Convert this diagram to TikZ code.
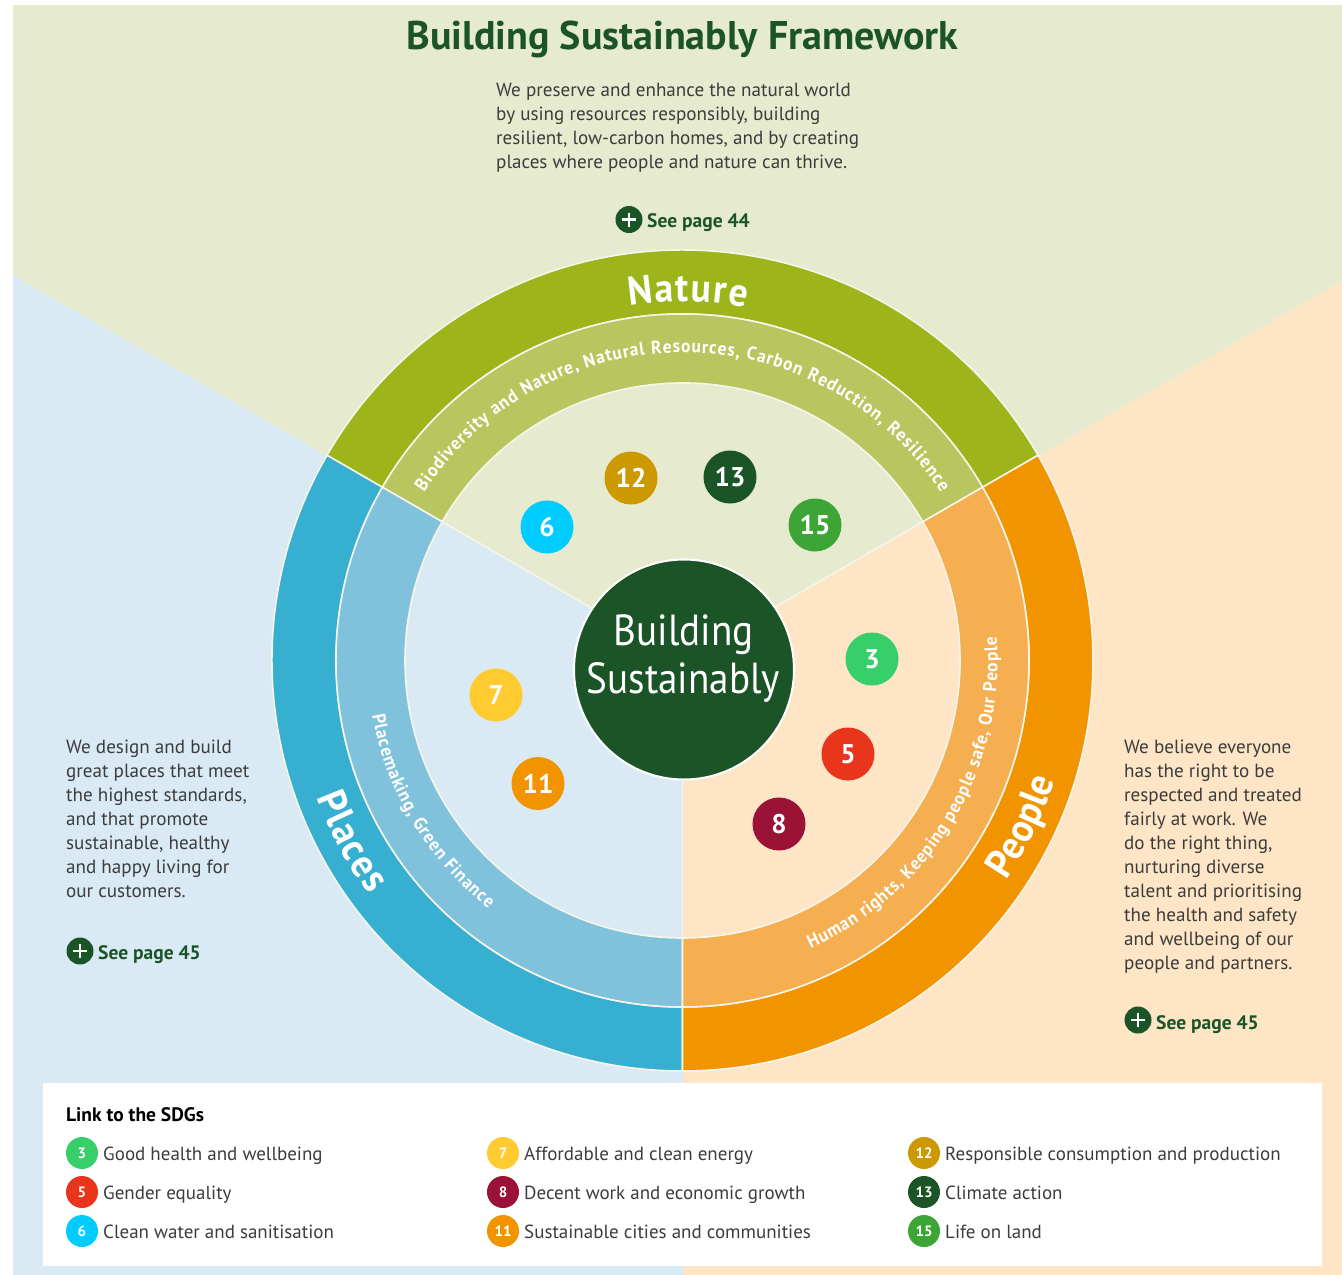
\documentclass[tikz,border=0pt]{standalone}
\usepackage{fontspec}
\usetikzlibrary{decorations.text}
\setmainfont{PT Sans}
\newfontfamily\boldf{PT Sans Bold}
\newfontfamily\curvef[FakeStretch=0.94]{PT Sans Bold}
\newfontfamily\hubf[FakeStretch=0.9]{PT Sans}
\definecolor{dkgreen}{HTML}{1B5427}
\definecolor{bgnat}{HTML}{E6EBD0}
\definecolor{bgpla}{HTML}{DAEAF4}
\definecolor{bgpeo}{HTML}{FDE5C6}
\definecolor{natA}{HTML}{9DB51B}
\definecolor{natB}{HTML}{B9C65F}
\definecolor{plaA}{HTML}{36AFD1}
\definecolor{plaB}{HTML}{80C1DC}
\definecolor{peoA}{HTML}{F29400}
\definecolor{peoB}{HTML}{F5AF50}
\definecolor{ink}{HTML}{3C3C3C}
\definecolor{rim}{HTML}{F6F5EA}
\definecolor{sThree}{HTML}{36CF6A}
\definecolor{sFive}{HTML}{E8351C}
\definecolor{sSix}{HTML}{00CCFF}
\definecolor{sSeven}{HTML}{FFCB30}
\definecolor{sEight}{HTML}{9A1236}
\definecolor{sEleven}{HTML}{F29400}
\definecolor{sTwelve}{HTML}{CC9900}
\definecolor{sThirteen}{HTML}{1B5427}
\definecolor{sFifteen}{HTML}{3DA535}
\tikzset{
  bigbadge/.style={circle,inner sep=0pt,minimum size=53pt,fill=#1,text=white,font=\boldf\fontsize{27}{27}\selectfont},
  smallbadge/.style={circle,inner sep=0pt,minimum size=32pt,fill=#1,text=white,font=\boldf\fontsize{15}{15}\selectfont},
  legendtext/.style={anchor=base west,inner sep=0pt,text=ink,font=\fontsize{19}{19}\selectfont},
  bodytext/.style={anchor=north west,inner sep=0pt,align=left,text=ink,font=\fontsize{19.1}{24}\selectfont},
  pluscircle/.style={circle,inner sep=0pt,minimum size=27pt,fill=dkgreen},
  seepage/.style={anchor=base west,inner sep=0pt,text=dkgreen,font=\boldf\fontsize{19.5}{19.5}\selectfont},
  rimline/.style={draw=rim,line width=1.6pt},
}
% \ringpart{start}{end}{outer}{inner}{fill}
\newcommand{\ringpart}[5]{\path[rimline,fill=#5] (#1:#3) arc[start angle=#1,end angle=#2,radius=#3] -- (#2:#4) arc[start angle=#2,end angle=#1,radius=#4] -- cycle;}
% \curvetext{start}{end}{radius}{font size}{text}
\newcommand{\curvetext}[5]{\path[decorate,decoration={text along path,text align={fit to path},text={|\curvef\fontsize{#4}{#4}\selectfont\color{white}|#5}}] (#1:#3) arc[start angle=#1,end angle=#2,radius=#3];}
\begin{document}
\begin{tikzpicture}[x=1pt,y=-1pt]
\useasboundingbox (0,0) rectangle (1342,1275);
% backgrounds
\fill[white] (0,0) rectangle (1342,1275);
\fill[bgpla] (13,275) -- (683,660) -- (683,1275) -- (13,1275) -- cycle;
\fill[bgpeo] (1342,281) -- (683,660) -- (683,1275) -- (1342,1275) -- cycle;
\fill[bgnat] (13,5) -- (1342,5) -- (1342,281) -- (683,660) -- (13,275) -- cycle;
% wheel
\begin{scope}[shift={(682.5,660.5)},y=1pt]
  \ringpart{30}{150}{410.5}{346.5}{natA}
  \ringpart{150}{270}{410.5}{346.5}{plaA}
  \ringpart{-90}{30}{410.5}{346.5}{peoA}
  \ringpart{30}{150}{346.5}{277.5}{natB}
  \ringpart{150}{270}{346.5}{277.5}{plaB}
  \ringpart{-90}{30}{346.5}{277.5}{peoB}
  \draw[rimline] (150:277.5) -- (0,0) -- (30:277.5);
  \draw[rimline] (0,0) -- (-90:277.5);
  \curvetext{98.5}{79.8}{359}{40}{Nature}
  \curvetext{147}{33}{308}{18.5}{Biodiversity and Nature, Natural Resources, Carbon Reduction, Resilience}
  \curvetext{200.5}{216.8}{391}{40}{Places}
  \curvetext{190}{232}{315}{18.5}{Placemaking, Green Finance}
  \curvetext{-34.2}{-18}{391}{40}{People}
  \curvetext{-66}{4.2}{315}{18.5}{Human rights, Keeping people safe, Our People}
\end{scope}
% centre
\node[circle,inner sep=0pt,minimum size=220pt,fill=dkgreen,draw=white,line width=2pt] (hub) at (684,669.5) {};
\node[inner sep=0pt,align=center,text=white,font=\hubf\fontsize{43.5}{48}\selectfont] (hubtext) at (683.5,658.5) {Building\\Sustainably};
% big badges
\node[bigbadge=sTwelve] (b12) at (631,478) {12};
\node[bigbadge=sThirteen] (b13) at (730,477) {13};
\node[bigbadge=sSix] (b6) at (547,527) {6};
\node[bigbadge=sFifteen] (b15) at (815,525) {15};
\node[bigbadge=sThree] (b3) at (872,659) {3};
\node[bigbadge=sFive] (b5) at (848,754) {5};
\node[bigbadge=sEight] (b8) at (779,824) {8};
\node[bigbadge=sSeven] (b7) at (496,695) {7};
\node[bigbadge=sEleven] (b11) at (538,783.5) {11};
% title and texts
\node[inner sep=0pt,text=dkgreen,font=\boldf\fontsize{40}{40}\selectfont,anchor=base] (title) at (682.5,49) {Building Sustainably Framework};
\node[bodytext] (tn) at (496,83) {We preserve and enhance the natural world\\by using resources responsibly, building\\resilient, low-carbon homes, and by creating\\places where people and nature can thrive.};
\node[bodytext] (tp) at (66,740) {We design and build\\great places that meet\\the highest standards,\\and that promote\\sustainable, healthy\\and happy living for\\our customers.};
\node[bodytext] (tr) at (1124,740) {We believe everyone\\has the right to be\\respected and treated\\fairly at work. We\\do the right thing,\\nurturing diverse\\talent and prioritising\\the health and safety\\and wellbeing of our\\people and partners.};
% see page
\node[pluscircle] (p1) at (629,219.5) {};
\draw[white,line width=2.6pt] (622,219.5) -- (636,219.5) (629,212.5) -- (629,226.5);
\node[seepage] (s1) at (647,227) {See page 44};
\node[pluscircle] (p2) at (80,951) {};
\draw[white,line width=2.6pt] (73,951) -- (87,951) (80,944) -- (80,958);
\node[seepage] (s2) at (98,959) {See page 45};
\node[pluscircle] (p3) at (1138,1020) {};
\draw[white,line width=2.6pt] (1131,1020) -- (1145,1020) (1138,1013) -- (1138,1027);
\node[seepage] (s3) at (1156,1029) {See page 45};
% legend
\fill[white] (43,1083) rectangle (1322,1266);
\node[anchor=base west,inner sep=0pt,text=black,font=\boldf\fontsize{19.5}{19.5}\selectfont] (lt) at (66,1121) {Link to the SDGs};
\node[smallbadge=sThree] (l3) at (82,1153) {3};
\node[legendtext] (x3) at (103,1160) {Good health and wellbeing};
\node[smallbadge=sFive] (l5) at (82,1192) {5};
\node[legendtext] (x5) at (103,1199) {Gender equality};
\node[smallbadge=sSix] (l6) at (82,1231) {6};
\node[legendtext] (x6) at (103,1238) {Clean water and sanitisation};
\node[smallbadge=sSeven] (l7) at (503,1153) {7};
\node[legendtext] (x7) at (524,1160) {Affordable and clean energy};
\node[smallbadge=sEight] (l8) at (503,1192) {8};
\node[legendtext] (x8) at (524,1199) {Decent work and economic growth};
\node[smallbadge=sEleven] (l11) at (503,1231) {11};
\node[legendtext] (x11) at (524,1238) {Sustainable cities and communities};
\node[smallbadge=sTwelve] (l12) at (924,1153) {12};
\node[legendtext] (x12) at (945,1160) {Responsible consumption and production};
\node[smallbadge=sThirteen] (l13) at (924,1192) {13};
\node[legendtext] (x13) at (945,1199) {Climate action};
\node[smallbadge=sFifteen] (l15) at (924,1231) {15};
\node[legendtext] (x15) at (945,1238) {Life on land};
\end{tikzpicture}
\end{document}
